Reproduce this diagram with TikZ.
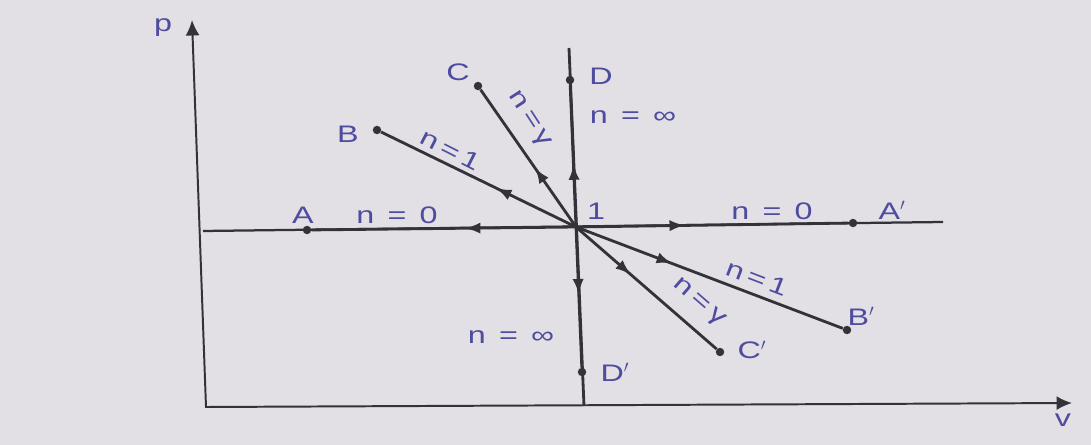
\documentclass[tikz,border=0pt]{standalone}
\usepackage{fontspec}
\newfontfamily\lblfont{Liberation Sans}[FakeStretch=1.35]
\usetikzlibrary{arrows.meta,decorations.markings}
\definecolor{paper}{RGB}{226,223,229}
\definecolor{ink}{RGB}{50,50,56}
\definecolor{lblblue}{RGB}{78,76,158}
\tikzset{
  ray/.style={draw=ink, line width=2pt},
  axis/.style={draw=ink, line width=1.4pt},
  dot/.style={circle, fill=ink, inner sep=0pt, minimum size=6pt},
  lbl/.style={text=lblblue, font=\lblfont\fontsize{17}{20}\selectfont, inner sep=0pt},
  midarrow/.style={postaction={decorate}, decoration={markings,
    mark=at position #1 with {\arrow{Latex[length=11pt,width=8pt]}}}}
}
\newcommand{\eqsp}{\hspace{0.55em}}
\newcommand{\tsp}{\hspace{0.2em}}

\begin{document}
\begin{tikzpicture}[x=0.025cm,y=-0.025cm]
  \fill[paper] (0,0) rectangle (1091,445);
  \useasboundingbox (0,0) rectangle (1091,445);

  % axes
  \coordinate (ptip) at (192,20);
  \coordinate (orig) at (206,407);
  \coordinate (vtip) at (1072,403);
  \draw[axis, {Latex[length=11pt,width=10pt]}-{Latex[length=11pt,width=10pt]}] (ptip) -- (orig) -- (vtip);
  \node[lbl] (plbl) at (163,28) {p};
  \node[lbl] (vlbl) at (1063,420) {v};

  % state points
  \coordinate (O) at (576,227);
  \node[dot] (A) at (307,230) {};
  \node[dot] (Ap) at (853,223) {};
  \node[dot] (B) at (377,130) {};
  \node[dot] (Bp) at (847,330) {};
  \node[dot] (C) at (478,86) {};
  \node[dot] (Cp) at (720,352) {};
  \node[dot] (D) at (570,80) {};
  \node[dot] (Dp) at (582,372) {};

  % full lines n = 0 and n = infinity
  \coordinate (hl) at (203,231);
  \coordinate (hr) at (943,222);
  \coordinate (vt) at (569,48);
  \coordinate (vb) at (584,406);
  \draw[ray, line width=1.6pt] (hl) -- (hr);
  \draw[ray] (vt) -- (vb);

  % processes from state 1
  \foreach \p/\pos in {A/0.42, Ap/0.40, B/0.41, Bp/0.36, C/0.43, Cp/0.39, D/0.44, Dp/0.48}
    \draw[ray, midarrow=\pos] (O) -- (\p);

  % Labels
  \node[lbl] (Albl) at (303,215) {A};
  \node[lbl] (Aplbl) at (892,210) {A$'$};
  \node[lbl] (Blbl) at (348,134) {B};
  \node[lbl] (Bplbl) at (861,316) {B$'$};
  \node[lbl] (Clbl) at (458,72) {C};
  \node[lbl] (Cplbl) at (752,350) {C$'$};
  \node[lbl] (Dlbl) at (601,76) {D};
  \node[lbl] (Dplbl) at (615,372) {D$'$};
  \node[lbl] (one) at (596,211) {1};

  \node[lbl] (nzl) at (397,215) {n\eqsp=\eqsp0};
  \node[lbl] (nzr) at (772,211) {n\eqsp=\eqsp0};
  \node[lbl] (ninfu) at (633,117) {n\eqsp=\eqsp∞};
  \node[lbl] (ninfd) at (511,337) {n\eqsp=\eqsp∞};
  \node[lbl, rotate=-27] (nou) at (451,150) {n\tsp=\tsp1};
  \node[lbl, rotate=-21] (nod) at (757,278) {n\tsp=\tsp1};
  \node[lbl, rotate=-57] (ngu) at (529,120) {n\tsp=\tsp γ};
  \node[lbl, rotate=-41] (ngd) at (699,303) {n\tsp=\tsp γ};
\end{tikzpicture}
\end{document}
